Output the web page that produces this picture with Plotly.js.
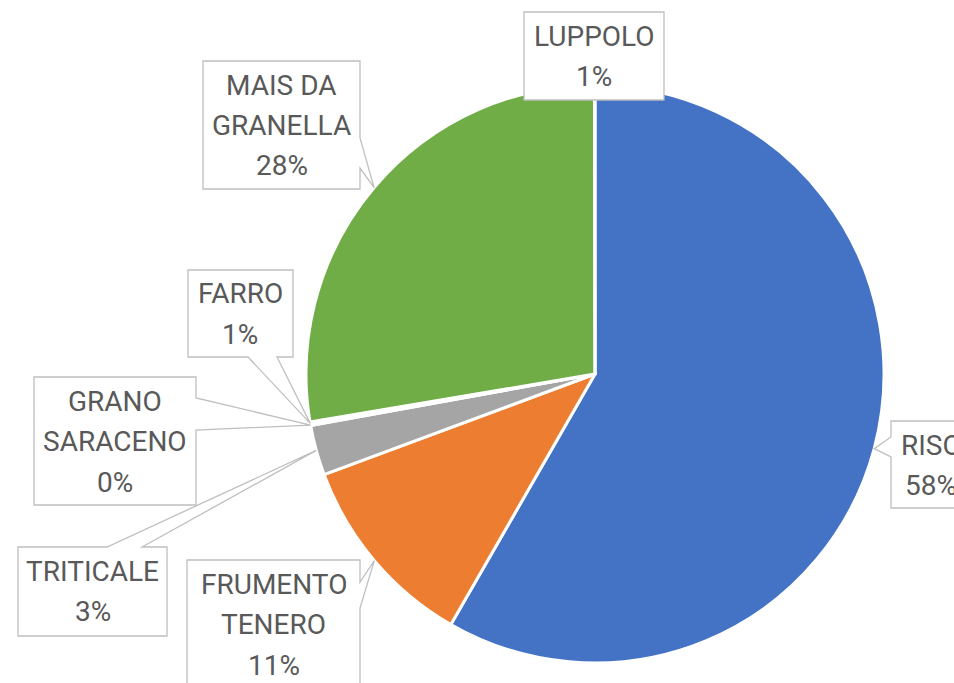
<!DOCTYPE html>
<html>
<head>
<meta charset="utf-8">
<script src="https://cdn.plot.ly/plotly-3.0.1.min.js"></script>
<style>
html,body{margin:0;padding:0;background:#fff;}
#chart{width:954px;height:683px;}
</style>
</head>
<body>
<div id="chart"></div>
<script>
// ---- data ----
const labels = ["RISO", "FRUMENTO TENERO", "TRITICALE", "GRANO SARACENO", "FARRO", "MAIS DA GRANELLA", "LUPPOLO"];
const values = [58.3, 11.03, 2.8, 0.05, 0.15, 27.62, 0.03];
const pctText = ["58%", "11%", "3%", "0%", "1%", "28%", "1%"];
const labelLines = [["RISO"], ["FRUMENTO", "TENERO"], ["TRITICALE"], ["GRANO", "SARACENO"], ["FARRO"], ["MAIS DA", "GRANELLA"], ["LUPPOLO"]];
const colors = ["#4472C4", "#ED7D31", "#A5A5A5", "#FFC000", "#5B9BD5", "#70AD47", "#264478"];

// ---- layout geometry (pixels) ----
const W = 954, H = 683;
const cx = 595, cy = 374, R = 289;
const callouts = [
  {box: [891, 421, 971, 508], wedge: {side: "left", a: 437, b: 457}},
  {box: [187, 560, 360, 730], wedge: {side: "right", a: 582, b: 608}},
  {box: [18, 547, 167, 636], wedge: {side: "top", a: 107, b: 142}},
  {box: [34, 377, 196, 505], wedge: {side: "right", a: 398, b: 430}},
  {box: [188, 270, 293, 357], wedge: {side: "bottom", a: 248, b: 277}},
  {box: [203, 61, 360, 189], wedge: {side: "right", a: 138, b: 168}},
  {box: [524, 12, 664, 100], wedge: null}
];
const FIRST = 24, SPACING = 40.5;
const FONT = "Roboto, 'Liberation Sans', sans-serif";
const TEXTCOL = "#595959";

const px = x => x / W;
const py = y => 1 - y / H;

// tip of each callout: outer edge of its slice at mid-angle
const total = values.reduce((s, v) => s + v, 0);
let cum = 0;
const tips = values.map(v => {
  const f = (cum + v / 2) / total;
  cum += v;
  const th = 2 * Math.PI * f;
  return [cx + R * Math.sin(th), cy - R * Math.cos(th)];
});

function calloutPath(c, tip) {
  const [x0, y0, x1, y1] = c.box;
  const w = c.wedge;
  const pts = [[x0, y0]];
  if (w && w.side === "top") pts.push([w.a, y0], tip, [w.b, y0]);
  pts.push([x1, y0]);
  if (w && w.side === "right") pts.push([x1, w.a], tip, [x1, w.b]);
  pts.push([x1, y1]);
  if (w && w.side === "bottom") pts.push([w.b, y1], tip, [w.a, y1]);
  pts.push([x0, y1]);
  if (w && w.side === "left") pts.push([x0, w.b], tip, [x0, w.a]);
  return "M " + pts.map(p => px(p[0]).toFixed(5) + "," + py(p[1]).toFixed(5)).join(" L ") + " Z";
}

const shapes = callouts.map((c, i) => ({
  type: "path", xref: "paper", yref: "paper",
  path: calloutPath(c, tips[i]),
  fillcolor: "#ffffff",
  line: {color: "#BFBFBF", width: 1.3},
  layer: "above"
}));

const annotations = [];
callouts.forEach((c, i) => {
  const lines = labelLines[i].concat([pctText[i]]);
  const xc = (c.box[0] + c.box[2]) / 2;
  lines.forEach((t, k) => {
    annotations.push({
      xref: "paper", yref: "paper",
      x: px(xc), y: py(c.box[1] + FIRST + k * SPACING),
      xanchor: "center", yanchor: "middle",
      text: t, showarrow: false,
      font: {family: FONT, size: 28, color: TEXTCOL}
    });
  });
});

const trace = {
  type: "pie",
  labels: labels,
  values: values,
  sort: false,
  direction: "clockwise",
  rotation: 0,
  textinfo: "none",
  hoverinfo: "label+percent",
  marker: {colors: colors, line: {color: "#ffffff", width: 3}},
  domain: {x: [px(cx - R), px(cx + R)], y: [py(cy + R), py(cy - R)]},
  showlegend: false
};

Plotly.newPlot("chart", [trace], {
  width: W, height: H,
  margin: {l: 0, r: 0, t: 0, b: 0},
  paper_bgcolor: "#ffffff",
  plot_bgcolor: "#ffffff",
  showlegend: false,
  shapes: shapes,
  annotations: annotations
}, {displayModeBar: false, staticPlot: true});
</script>
</body>
</html>
